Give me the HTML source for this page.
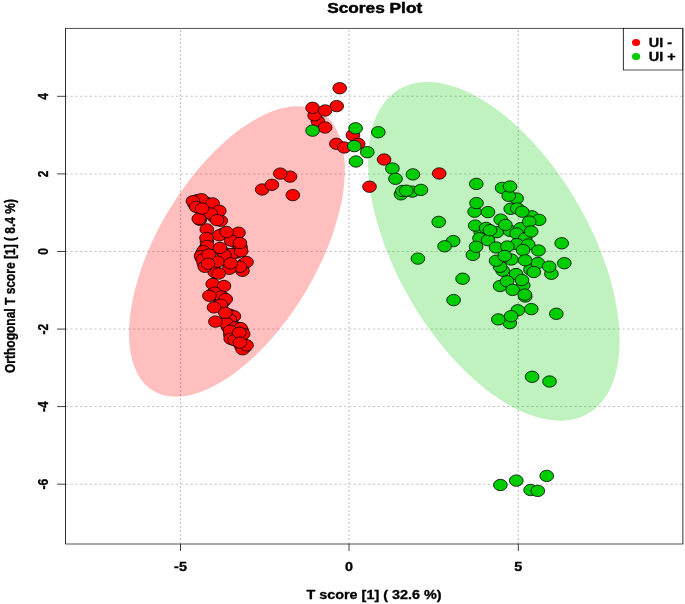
<!DOCTYPE html><html><head><meta charset="utf-8"><title>Scores Plot</title>
<style>html,body{margin:0;padding:0;background:#fff}svg{display:block}text{font-family:"Liberation Sans",sans-serif;font-weight:bold;fill:#000;stroke:#000;stroke-width:0.3px}</style></head><body>
<svg width="685" height="604" viewBox="0 0 685 604">
<rect width="685" height="604" fill="#fff"/>
<defs><filter id="b" x="0" y="0" width="685" height="604" filterUnits="userSpaceOnUse"><feGaussianBlur stdDeviation="0.4"/></filter></defs>
<g filter="url(#b)"><g transform="scale(1.2,1)">
<g stroke="#c8c8c8" stroke-width="1" stroke-dasharray="2 2" fill="none"><line x1="150.42" y1="544.0" x2="150.42" y2="28.3"/><line x1="290.83" y1="544.0" x2="290.83" y2="28.3"/><line x1="431.92" y1="544.0" x2="431.92" y2="28.3"/><line x1="54.67" y1="96.3" x2="569.08" y2="96.3"/><line x1="54.67" y1="173.9" x2="569.08" y2="173.9"/><line x1="54.67" y1="251.5" x2="569.08" y2="251.5"/><line x1="54.67" y1="329.1" x2="569.08" y2="329.1"/><line x1="54.67" y1="406.6" x2="569.08" y2="406.6"/><line x1="54.67" y1="484.2" x2="569.08" y2="484.2"/></g>
<polygon fill="#ff0000" fill-opacity="0.25" points="287.4,169.3 287.3,175.7 286.9,182.3 286.3,189.1 285.5,196.1 284.4,203.2 283.0,210.4 281.4,217.7 279.6,225.2 277.6,232.7 275.4,240.3 272.9,247.9 270.2,255.5 267.4,263.0 264.3,270.6 261.1,278.1 257.7,285.6 254.1,292.9 250.3,300.1 246.5,307.2 242.4,314.2 238.3,320.9 234.0,327.5 229.7,333.9 225.3,340.0 220.7,345.9 216.2,351.6 211.5,357.0 206.9,362.0 202.2,366.8 197.5,371.3 192.8,375.4 188.1,379.2 183.4,382.6 178.8,385.7 174.2,388.4 169.7,390.8 165.2,392.7 160.9,394.3 156.6,395.5 152.5,396.3 148.5,396.7 144.6,396.6 140.8,396.2 137.3,395.4 133.8,394.2 130.6,392.6 127.5,390.7 124.7,388.3 122.0,385.6 119.6,382.5 117.3,379.0 115.3,375.2 113.5,371.0 111.9,366.6 110.6,361.8 109.5,356.7 108.6,351.3 108.0,345.6 107.6,339.7 107.5,333.6 107.6,327.2 108.0,320.6 108.6,313.8 109.5,306.8 110.6,299.7 111.9,292.5 113.5,285.2 115.3,277.7 117.3,270.2 119.6,262.6 122.0,255.0 124.7,247.4 127.5,239.9 130.6,232.3 133.8,224.8 137.3,217.3 140.8,210.0 144.6,202.8 148.5,195.7 152.5,188.7 156.6,182.0 160.9,175.4 165.2,169.0 169.7,162.9 174.2,157.0 178.8,151.3 183.4,145.9 188.1,140.9 192.8,136.1 197.5,131.6 202.2,127.5 206.9,123.7 211.5,120.3 216.2,117.2 220.7,114.5 225.3,112.1 229.7,110.2 234.0,108.6 238.3,107.4 242.4,106.6 246.5,106.2 250.3,106.3 254.1,106.7 257.7,107.5 261.1,108.7 264.3,110.3 267.4,112.2 270.2,114.6 272.9,117.3 275.4,120.4 277.6,123.9 279.6,127.7 281.4,131.9 283.0,136.3 284.4,141.1 285.5,146.2 286.3,151.6 286.9,157.3 287.3,163.2"/>
<polygon fill="#00cd00" fill-opacity="0.25" points="516.3,340.6 516.2,348.0 515.8,355.2 515.0,362.0 514.0,368.6 512.8,374.8 511.2,380.7 509.4,386.3 507.3,391.4 504.9,396.2 502.3,400.6 499.4,404.6 496.3,408.2 493.0,411.3 489.4,414.0 485.6,416.2 481.6,418.0 477.5,419.4 473.1,420.2 468.6,420.7 463.9,420.6 459.1,420.1 454.1,419.1 449.1,417.7 443.9,415.8 438.6,413.5 433.3,410.7 427.9,407.4 422.5,403.8 417.0,399.7 411.5,395.3 406.0,390.4 400.5,385.1 395.1,379.5 389.7,373.5 384.4,367.2 379.1,360.6 373.9,353.7 368.9,346.5 363.9,339.0 359.1,331.3 354.4,323.4 349.9,315.3 345.5,307.0 341.4,298.5 337.4,289.9 333.6,281.3 330.0,272.5 326.7,263.7 323.6,254.8 320.7,245.9 318.1,237.1 315.7,228.3 313.6,219.5 311.8,210.9 310.2,202.3 309.0,193.9 308.0,185.6 307.2,177.5 306.8,169.7 306.7,162.0 306.8,154.6 307.2,147.4 308.0,140.6 309.0,134.0 310.2,127.8 311.8,121.9 313.6,116.3 315.7,111.2 318.1,106.4 320.7,102.0 323.6,98.0 326.7,94.4 330.0,91.3 333.6,88.6 337.4,86.4 341.4,84.6 345.5,83.2 349.9,82.4 354.4,81.9 359.1,82.0 363.9,82.5 368.9,83.5 373.9,84.9 379.1,86.8 384.4,89.1 389.7,91.9 395.1,95.2 400.5,98.8 406.0,102.9 411.5,107.3 417.0,112.2 422.5,117.5 427.9,123.1 433.3,129.1 438.6,135.4 443.9,142.0 449.1,148.9 454.1,156.1 459.1,163.6 463.9,171.3 468.6,179.2 473.1,187.3 477.5,195.6 481.6,204.1 485.6,212.7 489.4,221.3 493.0,230.1 496.3,238.9 499.4,247.8 502.3,256.7 504.9,265.5 507.3,274.3 509.4,283.1 511.2,291.7 512.8,300.3 514.0,308.7 515.0,317.0 515.8,325.1 516.2,332.9"/>
<g fill="#ff0000" stroke="#000" stroke-width="0.72"><ellipse cx="201.00" cy="268.8" rx="5.71" ry="5.70"/><ellipse cx="170.92" cy="202.1" rx="5.71" ry="5.70"/><ellipse cx="175.54" cy="204.2" rx="5.71" ry="5.70"/><ellipse cx="171.17" cy="206.8" rx="5.71" ry="5.70"/><ellipse cx="180.58" cy="272.8" rx="5.71" ry="5.70"/><ellipse cx="203.79" cy="347.3" rx="5.71" ry="5.70"/><ellipse cx="201.04" cy="346.0" rx="5.71" ry="5.70"/><ellipse cx="164.33" cy="200.2" rx="5.71" ry="5.70"/><ellipse cx="162.13" cy="204.1" rx="5.71" ry="5.70"/><ellipse cx="165.96" cy="207.8" rx="5.71" ry="5.70"/><ellipse cx="179.17" cy="212.2" rx="5.71" ry="5.70"/><ellipse cx="178.25" cy="216.8" rx="5.71" ry="5.70"/><ellipse cx="185.79" cy="233.7" rx="5.71" ry="5.70"/><ellipse cx="172.46" cy="241.9" rx="5.71" ry="5.70"/><ellipse cx="196.29" cy="241.8" rx="5.71" ry="5.70"/><ellipse cx="171.21" cy="248.6" rx="5.71" ry="5.70"/><ellipse cx="168.54" cy="253.6" rx="5.71" ry="5.70"/><ellipse cx="169.29" cy="255.4" rx="5.71" ry="5.70"/><ellipse cx="171.75" cy="252.8" rx="5.71" ry="5.70"/><ellipse cx="197.13" cy="252.6" rx="5.71" ry="5.70"/><ellipse cx="190.08" cy="254.4" rx="5.71" ry="5.70"/><ellipse cx="200.46" cy="247.1" rx="5.71" ry="5.70"/><ellipse cx="168.25" cy="257.8" rx="5.71" ry="5.70"/><ellipse cx="170.71" cy="255.2" rx="5.71" ry="5.70"/><ellipse cx="185.12" cy="251.4" rx="5.71" ry="5.70"/><ellipse cx="202.67" cy="264.4" rx="5.71" ry="5.70"/><ellipse cx="177.29" cy="262.7" rx="5.71" ry="5.70"/><ellipse cx="169.83" cy="263.2" rx="5.71" ry="5.70"/><ellipse cx="171.46" cy="257.1" rx="5.71" ry="5.70"/><ellipse cx="171.21" cy="261.7" rx="5.71" ry="5.70"/><ellipse cx="172.04" cy="265.3" rx="5.71" ry="5.70"/><ellipse cx="191.62" cy="266.1" rx="5.71" ry="5.70"/><ellipse cx="181.67" cy="294.6" rx="5.71" ry="5.70"/><ellipse cx="176.71" cy="294.2" rx="5.71" ry="5.70"/><ellipse cx="186.25" cy="297.8" rx="5.71" ry="5.70"/><ellipse cx="184.17" cy="300.6" rx="5.71" ry="5.70"/><ellipse cx="186.00" cy="301.9" rx="5.71" ry="5.70"/><ellipse cx="181.12" cy="306.0" rx="5.71" ry="5.70"/><ellipse cx="193.25" cy="318.0" rx="5.71" ry="5.70"/><ellipse cx="191.33" cy="314.6" rx="5.71" ry="5.70"/><ellipse cx="189.96" cy="321.3" rx="5.71" ry="5.70"/><ellipse cx="189.67" cy="316.2" rx="5.71" ry="5.70"/><ellipse cx="190.00" cy="326.9" rx="5.71" ry="5.70"/><ellipse cx="198.29" cy="327.8" rx="5.71" ry="5.70"/><ellipse cx="193.88" cy="329.0" rx="5.71" ry="5.70"/><ellipse cx="197.75" cy="330.0" rx="5.71" ry="5.70"/><ellipse cx="201.58" cy="331.1" rx="5.71" ry="5.70"/><ellipse cx="199.96" cy="330.4" rx="5.71" ry="5.70"/><ellipse cx="201.04" cy="333.4" rx="5.71" ry="5.70"/><ellipse cx="191.96" cy="334.7" rx="5.71" ry="5.70"/><ellipse cx="195.54" cy="331.7" rx="5.71" ry="5.70"/><ellipse cx="193.88" cy="339.4" rx="5.71" ry="5.70"/><ellipse cx="197.46" cy="336.4" rx="5.71" ry="5.70"/><ellipse cx="197.71" cy="341.3" rx="5.71" ry="5.70"/><ellipse cx="202.67" cy="344.0" rx="5.71" ry="5.70"/><ellipse cx="202.08" cy="270.8" rx="5.71" ry="5.70"/><ellipse cx="173.92" cy="204.9" rx="5.71" ry="5.70"/><ellipse cx="183.92" cy="220.8" rx="5.71" ry="5.70"/><ellipse cx="178.92" cy="272.1" rx="5.71" ry="5.70"/><ellipse cx="202.17" cy="349.3" rx="5.71" ry="5.70"/><ellipse cx="167.92" cy="199.2" rx="5.71" ry="5.70"/><ellipse cx="166.50" cy="219.8" rx="5.71" ry="5.70"/><ellipse cx="177.17" cy="203.4" rx="5.71" ry="5.70"/><ellipse cx="283.08" cy="88.2" rx="5.71" ry="5.70"/><ellipse cx="280.58" cy="106.1" rx="5.71" ry="5.70"/><ellipse cx="264.92" cy="121.3" rx="5.71" ry="5.70"/><ellipse cx="262.17" cy="115.4" rx="5.71" ry="5.70"/><ellipse cx="260.50" cy="107.8" rx="5.71" ry="5.70"/><ellipse cx="270.92" cy="110.5" rx="5.71" ry="5.70"/><ellipse cx="270.92" cy="127.5" rx="5.71" ry="5.70"/><ellipse cx="294.08" cy="135.2" rx="5.71" ry="5.70"/><ellipse cx="280.33" cy="143.8" rx="5.71" ry="5.70"/><ellipse cx="286.92" cy="147.5" rx="5.71" ry="5.70"/><ellipse cx="298.50" cy="143.8" rx="5.71" ry="5.70"/><ellipse cx="320.08" cy="159.5" rx="5.71" ry="5.70"/><ellipse cx="307.92" cy="186.7" rx="5.71" ry="5.70"/><ellipse cx="366.00" cy="173.5" rx="5.71" ry="5.70"/><ellipse cx="241.67" cy="176.6" rx="5.71" ry="5.70"/><ellipse cx="233.58" cy="173.6" rx="5.71" ry="5.70"/><ellipse cx="218.50" cy="189.5" rx="5.71" ry="5.70"/><ellipse cx="226.58" cy="184.8" rx="5.71" ry="5.70"/><ellipse cx="244.00" cy="195.1" rx="5.71" ry="5.70"/><ellipse cx="160.75" cy="201.2" rx="5.71" ry="5.70"/><ellipse cx="163.50" cy="206.9" rx="5.71" ry="5.70"/><ellipse cx="182.75" cy="210.8" rx="5.71" ry="5.70"/><ellipse cx="175.58" cy="213.5" rx="5.71" ry="5.70"/><ellipse cx="165.67" cy="218.8" rx="5.71" ry="5.70"/><ellipse cx="172.33" cy="229.4" rx="5.71" ry="5.70"/><ellipse cx="198.75" cy="232.7" rx="5.71" ry="5.70"/><ellipse cx="182.75" cy="235.3" rx="5.71" ry="5.70"/><ellipse cx="172.08" cy="238.0" rx="5.71" ry="5.70"/><ellipse cx="192.67" cy="240.6" rx="5.71" ry="5.70"/><ellipse cx="172.83" cy="245.9" rx="5.71" ry="5.70"/><ellipse cx="169.58" cy="251.2" rx="5.71" ry="5.70"/><ellipse cx="193.25" cy="253.9" rx="5.71" ry="5.70"/><ellipse cx="201.00" cy="251.2" rx="5.71" ry="5.70"/><ellipse cx="167.50" cy="256.0" rx="5.71" ry="5.70"/><ellipse cx="186.92" cy="255.0" rx="5.71" ry="5.70"/><ellipse cx="205.42" cy="262.0" rx="5.71" ry="5.70"/><ellipse cx="181.17" cy="261.6" rx="5.71" ry="5.70"/><ellipse cx="199.92" cy="266.8" rx="5.71" ry="5.70"/><ellipse cx="169.00" cy="259.6" rx="5.71" ry="5.70"/><ellipse cx="170.67" cy="266.8" rx="5.71" ry="5.70"/><ellipse cx="191.08" cy="268.8" rx="5.71" ry="5.70"/><ellipse cx="177.25" cy="284.0" rx="5.71" ry="5.70"/><ellipse cx="186.67" cy="286.0" rx="5.71" ry="5.70"/><ellipse cx="178.92" cy="292.6" rx="5.71" ry="5.70"/><ellipse cx="184.42" cy="296.5" rx="5.71" ry="5.70"/><ellipse cx="188.08" cy="299.1" rx="5.71" ry="5.70"/><ellipse cx="183.92" cy="304.7" rx="5.71" ry="5.70"/><ellipse cx="194.92" cy="316.3" rx="5.71" ry="5.70"/><ellipse cx="191.58" cy="319.6" rx="5.71" ry="5.70"/><ellipse cx="188.33" cy="323.0" rx="5.71" ry="5.70"/><ellipse cx="196.08" cy="327.4" rx="5.71" ry="5.70"/><ellipse cx="200.50" cy="328.1" rx="5.71" ry="5.70"/><ellipse cx="202.67" cy="334.0" rx="5.71" ry="5.70"/><ellipse cx="191.67" cy="330.7" rx="5.71" ry="5.70"/><ellipse cx="192.25" cy="338.7" rx="5.71" ry="5.70"/><ellipse cx="195.50" cy="340.0" rx="5.71" ry="5.70"/><ellipse cx="205.42" cy="345.3" rx="5.71" ry="5.70"/><ellipse cx="168.42" cy="208.6" rx="5.71" ry="5.70"/><ellipse cx="180.92" cy="220.1" rx="5.71" ry="5.70"/><ellipse cx="188.83" cy="232.0" rx="5.71" ry="5.70"/><ellipse cx="199.92" cy="243.0" rx="5.71" ry="5.70"/><ellipse cx="183.33" cy="247.9" rx="5.71" ry="5.70"/><ellipse cx="173.92" cy="254.5" rx="5.71" ry="5.70"/><ellipse cx="192.17" cy="263.3" rx="5.71" ry="5.70"/><ellipse cx="173.42" cy="263.8" rx="5.71" ry="5.70"/><ellipse cx="182.25" cy="273.5" rx="5.71" ry="5.70"/><ellipse cx="174.50" cy="295.8" rx="5.71" ry="5.70"/><ellipse cx="178.33" cy="307.4" rx="5.71" ry="5.70"/><ellipse cx="187.75" cy="312.8" rx="5.71" ry="5.70"/><ellipse cx="179.50" cy="321.6" rx="5.71" ry="5.70"/><ellipse cx="199.42" cy="332.7" rx="5.71" ry="5.70"/><ellipse cx="199.92" cy="342.6" rx="5.71" ry="5.70"/></g>
<g fill="#00cd00" stroke="#000" stroke-width="0.72"><ellipse cx="334.17" cy="194.3" rx="5.71" ry="5.70"/><ellipse cx="343.58" cy="191.6" rx="5.71" ry="5.70"/><ellipse cx="400.67" cy="232.2" rx="5.71" ry="5.70"/><ellipse cx="399.58" cy="238.2" rx="5.71" ry="5.70"/><ellipse cx="430.50" cy="198.5" rx="5.71" ry="5.70"/><ellipse cx="443.17" cy="216.3" rx="5.71" ry="5.70"/><ellipse cx="414.00" cy="232.2" rx="5.71" ry="5.70"/><ellipse cx="425.00" cy="230.9" rx="5.71" ry="5.70"/><ellipse cx="433.83" cy="228.2" rx="5.71" ry="5.70"/><ellipse cx="426.08" cy="259.5" rx="5.71" ry="5.70"/><ellipse cx="418.92" cy="270.7" rx="5.71" ry="5.70"/><ellipse cx="442.08" cy="269.6" rx="5.71" ry="5.70"/><ellipse cx="436.00" cy="285.3" rx="5.71" ry="5.70"/><ellipse cx="437.67" cy="296.5" rx="5.71" ry="5.70"/><ellipse cx="424.83" cy="323.1" rx="5.71" ry="5.70"/><ellipse cx="260.50" cy="130.6" rx="5.71" ry="5.70"/><ellipse cx="296.33" cy="128.3" rx="5.71" ry="5.70"/><ellipse cx="315.25" cy="132.2" rx="5.71" ry="5.70"/><ellipse cx="306.08" cy="152.2" rx="5.71" ry="5.70"/><ellipse cx="296.67" cy="161.5" rx="5.71" ry="5.70"/><ellipse cx="327.00" cy="168.5" rx="5.71" ry="5.70"/><ellipse cx="329.58" cy="178.8" rx="5.71" ry="5.70"/><ellipse cx="344.08" cy="174.4" rx="5.71" ry="5.70"/><ellipse cx="335.33" cy="191.0" rx="5.71" ry="5.70"/><ellipse cx="350.75" cy="189.9" rx="5.71" ry="5.70"/><ellipse cx="365.58" cy="221.9" rx="5.71" ry="5.70"/><ellipse cx="396.92" cy="183.9" rx="5.71" ry="5.70"/><ellipse cx="395.50" cy="211.7" rx="5.71" ry="5.70"/><ellipse cx="406.67" cy="212.1" rx="5.71" ry="5.70"/><ellipse cx="396.00" cy="225.6" rx="5.71" ry="5.70"/><ellipse cx="405.08" cy="227.9" rx="5.71" ry="5.70"/><ellipse cx="406.67" cy="240.2" rx="5.71" ry="5.70"/><ellipse cx="377.67" cy="241.1" rx="5.71" ry="5.70"/><ellipse cx="418.42" cy="187.9" rx="5.71" ry="5.70"/><ellipse cx="423.92" cy="195.8" rx="5.71" ry="5.70"/><ellipse cx="425.58" cy="208.8" rx="5.71" ry="5.70"/><ellipse cx="431.08" cy="208.4" rx="5.71" ry="5.70"/><ellipse cx="449.25" cy="219.9" rx="5.71" ry="5.70"/><ellipse cx="417.25" cy="219.6" rx="5.71" ry="5.70"/><ellipse cx="430.50" cy="233.5" rx="5.71" ry="5.70"/><ellipse cx="437.67" cy="238.2" rx="5.71" ry="5.70"/><ellipse cx="413.42" cy="247.5" rx="5.71" ry="5.70"/><ellipse cx="430.50" cy="244.1" rx="5.71" ry="5.70"/><ellipse cx="440.17" cy="244.5" rx="5.71" ry="5.70"/><ellipse cx="448.75" cy="250.5" rx="5.71" ry="5.70"/><ellipse cx="394.08" cy="254.9" rx="5.71" ry="5.70"/><ellipse cx="416.75" cy="266.8" rx="5.71" ry="5.70"/><ellipse cx="448.17" cy="263.0" rx="5.71" ry="5.70"/><ellipse cx="459.50" cy="273.8" rx="5.71" ry="5.70"/><ellipse cx="430.00" cy="274.0" rx="5.71" ry="5.70"/><ellipse cx="416.75" cy="286.0" rx="5.71" ry="5.70"/><ellipse cx="385.50" cy="278.7" rx="5.71" ry="5.70"/><ellipse cx="378.00" cy="300.1" rx="5.71" ry="5.70"/><ellipse cx="348.25" cy="258.6" rx="5.71" ry="5.70"/><ellipse cx="442.75" cy="309.1" rx="5.71" ry="5.70"/><ellipse cx="431.50" cy="310.3" rx="5.71" ry="5.70"/><ellipse cx="463.58" cy="313.8" rx="5.71" ry="5.70"/><ellipse cx="415.33" cy="319.4" rx="5.71" ry="5.70"/><ellipse cx="468.08" cy="243.3" rx="5.71" ry="5.70"/><ellipse cx="470.25" cy="263.2" rx="5.71" ry="5.70"/><ellipse cx="443.42" cy="376.8" rx="5.71" ry="5.70"/><ellipse cx="457.92" cy="381.5" rx="5.71" ry="5.70"/><ellipse cx="417.00" cy="485.0" rx="5.71" ry="5.70"/><ellipse cx="430.25" cy="480.6" rx="5.71" ry="5.70"/><ellipse cx="442.17" cy="490.0" rx="5.71" ry="5.70"/><ellipse cx="455.58" cy="475.9" rx="5.71" ry="5.70"/><ellipse cx="295.25" cy="146.1" rx="5.71" ry="5.70"/><ellipse cx="338.58" cy="190.7" rx="5.71" ry="5.70"/><ellipse cx="397.08" cy="203.1" rx="5.71" ry="5.70"/><ellipse cx="408.33" cy="230.2" rx="5.71" ry="5.70"/><ellipse cx="370.50" cy="246.3" rx="5.71" ry="5.70"/><ellipse cx="396.75" cy="246.8" rx="5.71" ry="5.70"/><ellipse cx="425.00" cy="186.5" rx="5.71" ry="5.70"/><ellipse cx="435.17" cy="211.7" rx="5.71" ry="5.70"/><ellipse cx="441.00" cy="221.6" rx="5.71" ry="5.70"/><ellipse cx="421.17" cy="224.9" rx="5.71" ry="5.70"/><ellipse cx="442.67" cy="231.5" rx="5.71" ry="5.70"/><ellipse cx="422.83" cy="246.5" rx="5.71" ry="5.70"/><ellipse cx="435.83" cy="250.0" rx="5.71" ry="5.70"/><ellipse cx="413.42" cy="260.8" rx="5.71" ry="5.70"/><ellipse cx="420.58" cy="255.9" rx="5.71" ry="5.70"/><ellipse cx="437.67" cy="260.3" rx="5.71" ry="5.70"/><ellipse cx="457.67" cy="266.6" rx="5.71" ry="5.70"/><ellipse cx="444.83" cy="272.0" rx="5.71" ry="5.70"/><ellipse cx="422.58" cy="281.3" rx="5.71" ry="5.70"/><ellipse cx="434.92" cy="280.0" rx="5.71" ry="5.70"/><ellipse cx="427.17" cy="289.9" rx="5.71" ry="5.70"/><ellipse cx="437.33" cy="294.6" rx="5.71" ry="5.70"/><ellipse cx="425.92" cy="316.2" rx="5.71" ry="5.70"/><ellipse cx="448.17" cy="490.9" rx="5.71" ry="5.70"/></g>
<rect x="54.67" y="28.3" width="514.42" height="515.7" fill="none" stroke="#000" stroke-width="0.68"/>
<g stroke="#000" stroke-width="0.68"><line x1="150.42" y1="544.0" x2="150.42" y2="551.0"/><line x1="290.83" y1="544.0" x2="290.83" y2="551.0"/><line x1="431.92" y1="544.0" x2="431.92" y2="551.0"/><line x1="54.67" y1="96.3" x2="47.58" y2="96.3"/><line x1="54.67" y1="173.9" x2="47.58" y2="173.9"/><line x1="54.67" y1="251.5" x2="47.58" y2="251.5"/><line x1="54.67" y1="329.1" x2="47.58" y2="329.1"/><line x1="54.67" y1="406.6" x2="47.58" y2="406.6"/><line x1="54.67" y1="484.2" x2="47.58" y2="484.2"/></g>
<text x="150.42" y="571" font-size="12" text-anchor="middle">-5</text>
<text x="290.83" y="571" font-size="12" text-anchor="middle">0</text>
<text x="431.92" y="571" font-size="12" text-anchor="middle">5</text>
<text transform="translate(39.83,96.3) rotate(-90)" font-size="12" text-anchor="middle">4</text>
<text transform="translate(39.83,173.9) rotate(-90)" font-size="12" text-anchor="middle">2</text>
<text transform="translate(39.83,251.5) rotate(-90)" font-size="12" text-anchor="middle">0</text>
<text transform="translate(39.83,329.1) rotate(-90)" font-size="12" text-anchor="middle">-2</text>
<text transform="translate(39.83,406.6) rotate(-90)" font-size="12" text-anchor="middle">-4</text>
<text transform="translate(39.83,484.2) rotate(-90)" font-size="12" text-anchor="middle">-6</text>
<text x="311.67" y="598.6" font-size="12" text-anchor="middle">T score [1] ( 32.6 %)</text>
<text transform="translate(12.17,286.0) rotate(-90)" font-size="12" text-anchor="middle">Orthogonal T score [1] ( 8.4 %)</text>
<text x="312.25" y="13.2" font-size="14.4" stroke-width="0.45" style="stroke-width:0.45px" text-anchor="middle">Scores Plot</text>
<rect x="519.42" y="28.3" width="49.50" height="41.7" fill="#fff" stroke="#000" stroke-width="0.68"/>
<ellipse cx="530.08" cy="42.5" rx="3.42" ry="3.5" fill="#ff0000"/>
<ellipse cx="530.08" cy="56.6" rx="3.42" ry="3.5" fill="#00cd00"/>
<text x="540.67" y="46.7" font-size="12">UI -</text>
<text x="540.67" y="60.9" font-size="12">UI +</text>
</g></g></svg></body></html>
